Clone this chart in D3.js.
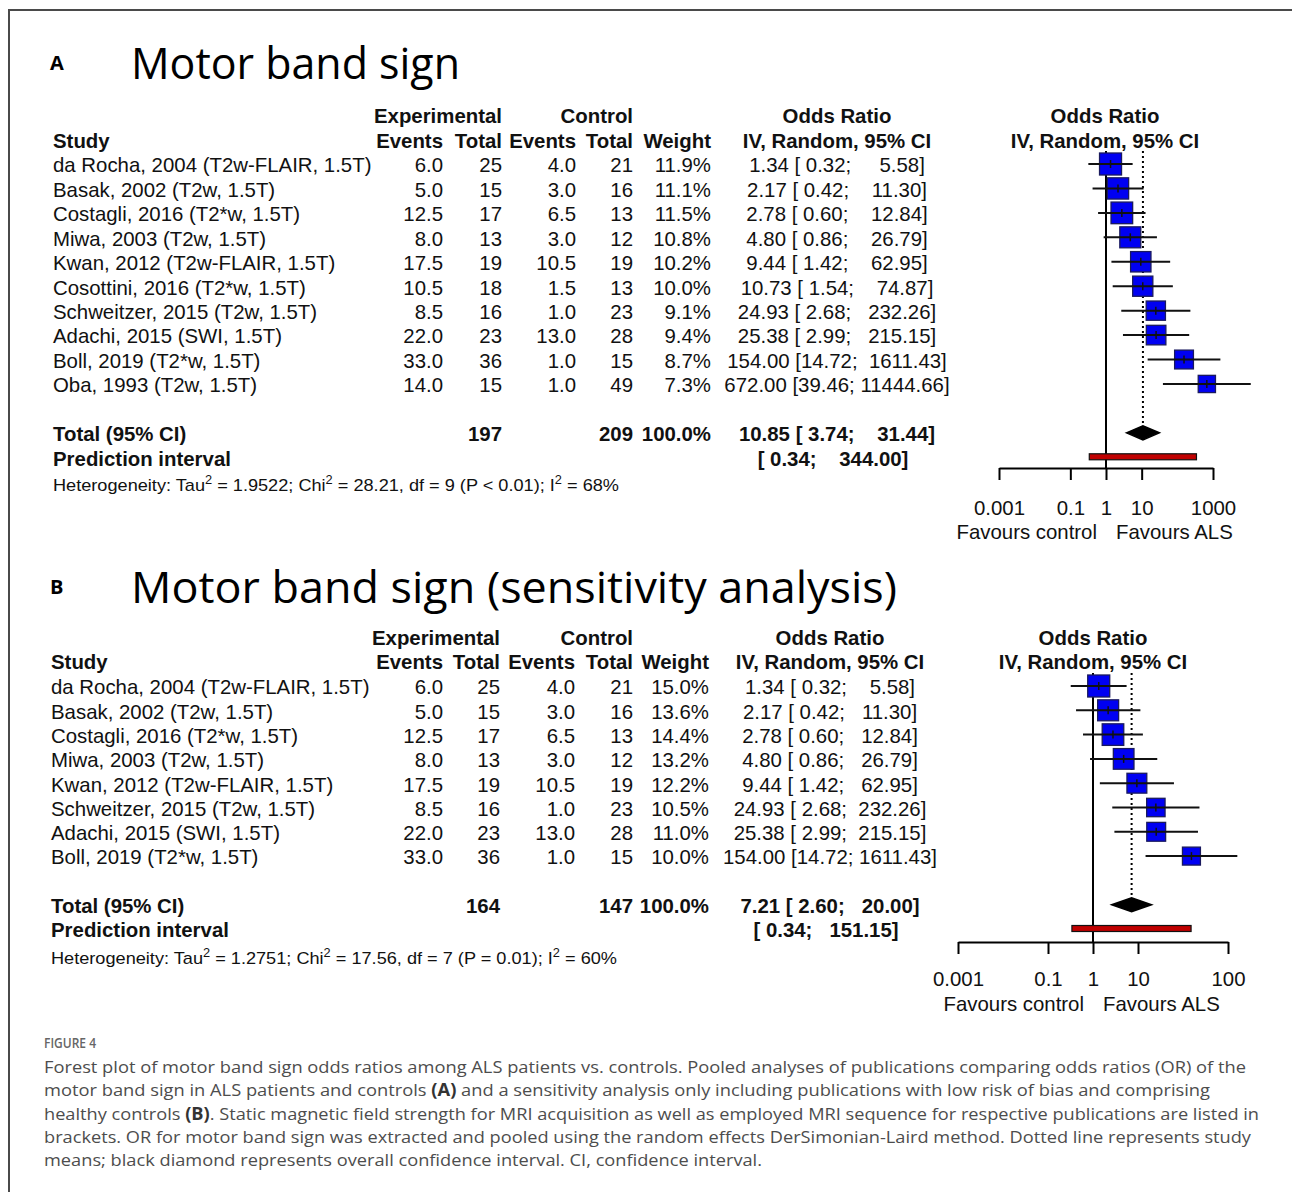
<!DOCTYPE html>
<html><head><meta charset="utf-8">
<script src="https://cdn.jsdelivr.net/npm/d3@7"></script>
<style>
body{margin:0;background:#fff;}
svg text{white-space:pre;}
</style></head><body>
<svg id="chart" width="1292" height="1192"></svg>
<script>
// ---------------- DATA : panel A ----------------
const studiesA = ["da Rocha, 2004 (T2w-FLAIR, 1.5T)","Basak, 2002 (T2w, 1.5T)","Costagli, 2016 (T2*w, 1.5T)","Miwa, 2003 (T2w, 1.5T)","Kwan, 2012 (T2w-FLAIR, 1.5T)","Cosottini, 2016 (T2*w, 1.5T)","Schweitzer, 2015 (T2w, 1.5T)","Adachi, 2015 (SWI, 1.5T)","Boll, 2019 (T2*w, 1.5T)","Oba, 1993 (T2w, 1.5T)"];
const expEventsA = [6.0,5.0,12.5,8.0,17.5,10.5,8.5,22.0,33.0,14.0];
const expTotalA  = [25,15,17,13,19,18,16,23,36,15];
const ctrlEventsA= [4.0,3.0,6.5,3.0,10.5,1.5,1.0,13.0,1.0,1.0];
const ctrlTotalA = [21,16,13,12,19,13,23,28,15,49];
const weightA    = [11.9,11.1,11.5,10.8,10.2,10.0,9.1,9.4,8.7,7.3];
const orA        = [1.34,2.17,2.78,4.80,9.44,10.73,24.93,25.38,154.00,672.00];
const lowerA     = [0.32,0.42,0.60,0.86,1.42,1.54,2.68,2.99,14.72,39.46];
const upperA     = [5.58,11.30,12.84,26.79,62.95,74.87,232.26,215.15,1611.43,11444.66];
const pooledA    = [10.85,3.74,31.44];
const predA      = [0.34,344.00];
const totalsA    = [197,209];
const heteroA    = ["1.9522","28.21","9","P < 0.01","68%"];
const ticksA     = [0.001,0.1,1,10,1000];
const tickLabelsA= ["0.001","0.1","1","10","1000"];

// ---------------- DATA : panel B ----------------
const studiesB = ["da Rocha, 2004 (T2w-FLAIR, 1.5T)","Basak, 2002 (T2w, 1.5T)","Costagli, 2016 (T2*w, 1.5T)","Miwa, 2003 (T2w, 1.5T)","Kwan, 2012 (T2w-FLAIR, 1.5T)","Schweitzer, 2015 (T2w, 1.5T)","Adachi, 2015 (SWI, 1.5T)","Boll, 2019 (T2*w, 1.5T)"];
const expEventsB = [6.0,5.0,12.5,8.0,17.5,8.5,22.0,33.0];
const expTotalB  = [25,15,17,13,19,16,23,36];
const ctrlEventsB= [4.0,3.0,6.5,3.0,10.5,1.0,13.0,1.0];
const ctrlTotalB = [21,16,13,12,19,23,28,15];
const weightB    = [15.0,13.6,14.4,13.2,12.2,10.5,11.0,10.0];
const orB        = [1.34,2.17,2.78,4.80,9.44,24.93,25.38,154.00];
const lowerB     = [0.32,0.42,0.60,0.86,1.42,2.68,2.99,14.72];
const upperB     = [5.58,11.30,12.84,26.79,62.95,232.26,215.15,1611.43];
const pooledB    = [7.21,2.60,20.00];
const predB      = [0.34,151.15];
const totalsB    = [164,147];
const heteroB    = ["1.2751","17.56","7","P = 0.01","60%"];
const ticksB     = [0.001,0.1,1,10,1000];
const tickLabelsB= ["0.001","0.1","1","10","100"];

const captionHead = "FIGURE 4";
const captionLines = [
  [["Forest plot of motor band sign odds ratios among ALS patients vs. controls. Pooled analyses of publications comparing odds ratios (OR) of the",0]],
  [["motor band sign in ALS patients and controls ",0],["(A)",1],[" and a sensitivity analysis only including publications with low risk of bias and comprising",0]],
  [["healthy controls ",0],["(B)",1],[". Static magnetic field strength for MRI acquisition as well as employed MRI sequence for respective publications are listed in",0]],
  [["brackets. OR for motor band sign was extracted and pooled using the random effects DerSimonian-Laird method. Dotted line represents study",0]],
  [["means; black diamond represents overall confidence interval. CI, confidence interval.",0]]
];

// ---------------- LAYOUT ----------------
const svg = d3.select("#chart");
const FONT = "'Liberation Sans', Arial, sans-serif";
const FS = 20.4;

svg.append("path").attr("d","M9,1192V10H1292").attr("fill","none").attr("stroke","#4a4a4a").attr("stroke-width",2);

function txt(g, x, y, s, o = {}) {
  return g.append("text").attr("x", x).attr("y", y).attr("dy", o.dy || "0.36em")
    .attr("text-anchor", o.anchor || "start")
    .attr("font-family", o.family || FONT).attr("font-size", o.size || FS)
    .attr("font-weight", o.bold ? "bold" : "normal")
    .attr("fill", o.fill || "#111").text(s);
}
const pad = (s, w) => s.padStart(w, " ");
const f2 = v => v.toFixed(2);

function drawPanel(D, L) {
  const g = svg.append("g");
  const n = D.studies.length;
  const y = d3.scaleLinear().domain([0, n + 2]).range([L.row0Y, L.row0Y + (n + 2) * L.rowStep]);
  const x = d3.scaleLog().domain([0.001, 1000]).range(L.forestRange);
  const box = d3.scaleSqrt().domain([0, d3.max(D.weight)]).range([0, L.boxMax]);

  // titles
  txt(g, L.labelX, L.titleY, L.label, {family: "'Open Sans', sans-serif", size: 20, bold: true, fill: "#000"});
  txt(g, L.titleX, L.titleY, L.title, {family: "'Open Sans', sans-serif", size: 44, fill: "#000"})
    .attr("textLength", L.titleW).attr("lengthAdjust", "spacingAndGlyphs");

  // headers
  const hb = {bold: true};
  txt(g, L.expTotX, L.head1Y, "Experimental", {...hb, anchor: "end"});
  txt(g, L.ctrlTotX, L.head1Y, "Control", {...hb, anchor: "end"});
  txt(g, L.orX, L.head1Y, "Odds Ratio", {...hb, anchor: "middle"});
  txt(g, L.forestHeadX, L.head1Y, "Odds Ratio", {...hb, anchor: "middle"});
  txt(g, L.studyX, L.head2Y, "Study", hb);
  txt(g, L.expEvX, L.head2Y, "Events", {...hb, anchor: "end"});
  txt(g, L.expTotX, L.head2Y, "Total", {...hb, anchor: "end"});
  txt(g, L.ctrlEvX, L.head2Y, "Events", {...hb, anchor: "end"});
  txt(g, L.ctrlTotX, L.head2Y, "Total", {...hb, anchor: "end"});
  txt(g, L.wX, L.head2Y, "Weight", {...hb, anchor: "end"});
  txt(g, L.orX, L.head2Y, "IV, Random, 95% CI", {...hb, anchor: "middle"});
  txt(g, L.forestHeadX, L.head2Y, "IV, Random, 95% CI", {...hb, anchor: "middle"});

  const lw = d3.max(D.lower, v => f2(v).length);
  const uw = d3.max(D.upper, v => f2(v).length);

  D.studies.forEach((s, i) => {
    const yy = y(i);
    txt(g, L.studyX, yy, s);
    txt(g, L.expEvX, yy, D.expEvents[i].toFixed(1), {anchor: "end"});
    txt(g, L.expTotX, yy, String(D.expTotal[i]), {anchor: "end"});
    txt(g, L.ctrlEvX, yy, D.ctrlEvents[i].toFixed(1), {anchor: "end"});
    txt(g, L.ctrlTotX, yy, String(D.ctrlTotal[i]), {anchor: "end"});
    txt(g, L.wX, yy, D.weight[i].toFixed(1) + "%", {anchor: "end"});
    txt(g, L.orX, yy, f2(D.or[i]) + " [" + pad(f2(D.lower[i]), lw) + "; " + pad(f2(D.upper[i]), uw) + "]", {anchor: "middle"});
  });

  const ty = y(n + 1), py = y(n + 2);
  txt(g, L.studyX, ty, "Total (95% CI)", hb);
  txt(g, L.expTotX, ty, String(D.totals[0]), {...hb, anchor: "end"});
  txt(g, L.ctrlTotX, ty, String(D.totals[1]), {...hb, anchor: "end"});
  txt(g, L.wX, ty, "100.0%", {...hb, anchor: "end"});
  txt(g, L.orX, ty, f2(D.pooled[0]) + " [" + pad(f2(D.pooled[1]), lw) + "; " + pad(f2(D.pooled[2]), uw) + "]", {...hb, anchor: "middle"});
  txt(g, L.studyX, py, "Prediction interval", hb);
  txt(g, L.orX - 4, py, "[" + pad(f2(D.pred[0]), lw) + ";  " + pad(f2(D.pred[1]), uw) + "]", {...hb, anchor: "middle"});

  // heterogeneity
  const h = D.hetero;
  const ht = g.append("text").attr("x", L.studyX).attr("y", L.hetY).attr("dy", "0.36em")
    .attr("font-family", FONT).attr("font-size", 17).attr("fill", "#111")
    .attr("textLength", L.hetW).attr("lengthAdjust", "spacingAndGlyphs");
  const parts = [["Heterogeneity: Tau", 0], ["2", 1], [" = " + h[0] + "; Chi", 0], ["2", 1],
    [" = " + h[1] + ", df = " + h[2] + " (" + h[3] + "); I", 0], ["2", 1], [" = " + h[4], 0]];
  let up = false;
  parts.forEach(([s, sup]) => {
    const t = ht.append("tspan").text(s);
    if (sup) { t.attr("dy", -7).attr("font-size", 12); up = true; }
    else if (up) { t.attr("dy", 7); up = false; }
  });

  // forest: reference lines
  g.append("line").attr("x1", x(1)).attr("x2", x(1)).attr("y1", L.nullTop).attr("y2", L.axisY)
    .attr("stroke", "#000").attr("stroke-width", 2);
  g.append("line").attr("x1", x(D.pooled[0])).attr("x2", x(D.pooled[0])).attr("y1", L.nullTop).attr("y2", ty)
    .attr("stroke", "#000").attr("stroke-width", 2).attr("stroke-dasharray", "2,3");

  // study marks
  D.or.forEach((v, i) => {
    const yy = y(i) - 1, s = box(D.weight[i]);
    g.append("rect").attr("x", x(v) - s / 2).attr("y", yy - s / 2).attr("width", s).attr("height", s)
      .attr("fill", "#0000f2").attr("stroke", "#1a1a5e").attr("stroke-width", 1.3);
    g.append("line").attr("x1", x(D.lower[i])).attr("x2", x(D.upper[i])).attr("y1", yy).attr("y2", yy)
      .attr("stroke", "#111").attr("stroke-width", 2);
    g.append("line").attr("x1", x(v)).attr("x2", x(v)).attr("y1", yy - 4).attr("y2", yy + 4)
      .attr("stroke", "#111").attr("stroke-width", 1.5);
  });

  // diamond
  const dh = 7, dy0 = ty - 1;
  g.append("path").attr("d", `M${x(D.pooled[1])},${dy0}L${x(D.pooled[0])},${dy0 - dh}L${x(D.pooled[2])},${dy0}L${x(D.pooled[0])},${dy0 + dh}Z`)
    .attr("fill", "#000").attr("stroke", "#000").attr("stroke-width", 1.5);

  // prediction interval
  g.append("rect").attr("x", x(D.pred[0])).attr("y", py - 1.5 - 3).attr("width", x(D.pred[1]) - x(D.pred[0])).attr("height", 6)
    .attr("fill", "#c00000").attr("stroke", "#111").attr("stroke-width", 1.2);

  // axis
  const ax = g.append("g").attr("transform", `translate(0,${L.axisY})`)
    .call(d3.axisBottom(x).tickValues(D.ticks).tickSize(12).tickSizeOuter(0).tickFormat((d, i) => D.tickLabels[i]));
  ax.select(".domain").attr("stroke", "#000").attr("stroke-width", 2);
  ax.selectAll(".tick line").attr("stroke", "#000").attr("stroke-width", 2);
  ax.selectAll(".tick text").attr("y", L.tickLabY - L.axisY).attr("dy", "0.36em")
    .attr("font-family", FONT).attr("font-size", FS).attr("fill", "#111");
  txt(g, x(1) - 9, L.favY, "Favours control", {anchor: "end"});
  txt(g, x(1) + 10, L.favY, "Favours ALS");
}

drawPanel(
  {studies: studiesA, expEvents: expEventsA, expTotal: expTotalA, ctrlEvents: ctrlEventsA, ctrlTotal: ctrlTotalA,
   weight: weightA, or: orA, lower: lowerA, upper: upperA, pooled: pooledA, pred: predA, totals: totalsA,
   hetero: heteroA, ticks: ticksA, tickLabels: tickLabelsA},
  {label: "A", title: "Motor band sign", labelX: 50, titleX: 131, titleY: 63, titleW: 329,
   head1Y: 116, head2Y: 141, row0Y: 165, rowStep: 24.44,
   studyX: 53, expEvX: 443, expTotX: 502, ctrlEvX: 576, ctrlTotX: 633, wX: 711, orX: 837,
   forestRange: [999, 1213], forestHeadX: 1105, nullTop: 151, axisY: 468, tickLabY: 508, favY: 532,
   boxMax: 22, hetY: 485, hetW: 566});

drawPanel(
  {studies: studiesB, expEvents: expEventsB, expTotal: expTotalB, ctrlEvents: ctrlEventsB, ctrlTotal: ctrlTotalB,
   weight: weightB, or: orB, lower: lowerB, upper: upperB, pooled: pooledB, pred: predB, totals: totalsB,
   hetero: heteroB, ticks: ticksB, tickLabels: tickLabelsB},
  {label: "B", title: "Motor band sign (sensitivity analysis)", labelX: 50, titleX: 131, titleY: 587, titleW: 766,
   head1Y: 638, head2Y: 662, row0Y: 687, rowStep: 24.3,
   studyX: 51, expEvX: 443, expTotX: 500, ctrlEvX: 575, ctrlTotX: 633, wX: 709, orX: 830,
   forestRange: [958, 1228], forestHeadX: 1093, nullTop: 673, axisY: 942, tickLabY: 979, favY: 1004,
   boxMax: 22, hetY: 958, hetW: 566});

// caption
const cap = svg.append("g");
cap.append("text").attr("x", 44).attr("y", 1043).attr("dy", "0.36em")
  .attr("font-family", "'Open Sans', sans-serif").attr("font-size", 14).attr("font-weight", 600)
  .attr("fill", "#666").attr("textLength", 52).attr("lengthAdjust", "spacingAndGlyphs").text(captionHead);
const capW = [1202, 1166, 1215, 1207, 718];
captionLines.forEach((line, i) => {
  const t = cap.append("text").attr("x", 44).attr("y", 1067 + i * 23.3).attr("dy", "0.36em")
    .attr("font-family", "'Open Sans', sans-serif").attr("font-size", 17).attr("fill", "#4d4d4d")
    .attr("textLength", capW[i]).attr("lengthAdjust", "spacingAndGlyphs");
  line.forEach(([s, b]) => t.append("tspan").attr("font-weight", b ? 700 : 400).attr("fill", b ? "#333" : null).text(s));
});
</script>
</body></html>
